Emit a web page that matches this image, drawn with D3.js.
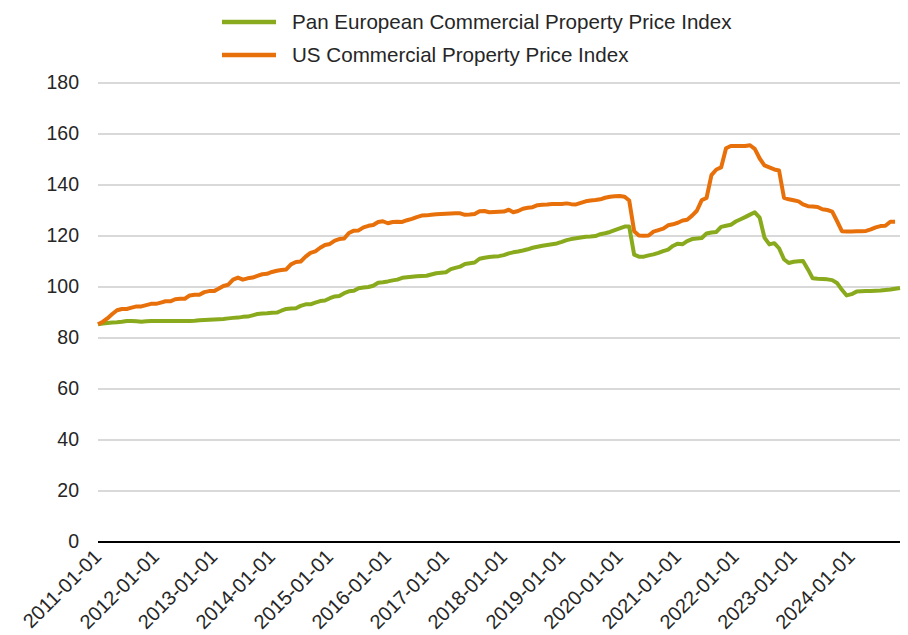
<!DOCTYPE html>
<meta charset="utf-8">
<style>
  body { margin: 0; background: #fff; }
  .chart text { font-family: "Liberation Sans", Arial, sans-serif; fill: #262626; }
  .grid line { stroke: #d9d9d9; stroke-width: 2; shape-rendering: crispEdges; }
  .grid path, .axis path { display: none; }
  .axis text { font-size: 19.5px; }
  .xaxis text { font-size: 20px; }
  .legend text { font-size: 20.6px; }
</style>
<body>
<svg class="chart"></svg>
<script src="https://cdn.jsdelivr.net/npm/d3@7"></script>
<script>

// Series names
var seriesNames = ["Pan European Commercial Property Price Index",
                   "US Commercial Property Price Index"];
var seriesColors = ["#8aaa1e", "#e8700a"];

// First month of both series, one value per month
var startMonth = "2011-01-01";

// Pan European index, 2011-01 .. 2024-11
var panEuropean = [
  85, 85.3, 85.5, 85.7, 85.8, 86, 86.3, 86.3, 86.2, 86, 86.2, 86.3,
  86.3, 86.3, 86.3, 86.3, 86.3, 86.3, 86.3, 86.3, 86.4, 86.6, 86.7, 86.8,
  86.9, 87, 87.1, 87.3, 87.5, 87.6, 87.9, 88, 88.5, 89, 89.2, 89.3,
  89.5, 89.6, 90.3, 91, 91.2, 91.3, 92.2, 92.8, 92.8, 93.5, 94.1, 94.3,
  95.2, 95.9, 96.1, 97.2, 97.9, 98.1, 99.1, 99.4, 99.6, 100.1, 101.3, 101.5,
  101.8, 102.2, 102.5, 103.2, 103.4, 103.6, 103.8, 103.9, 104, 104.5, 105, 105.2,
  105.4, 106.6, 107.1, 107.6, 108.6, 108.9, 109.2, 110.7, 111.1, 111.4, 111.6, 111.7,
  112.1, 112.8, 113.2, 113.5, 113.9, 114.4, 115, 115.4, 115.8, 116.1, 116.4, 116.7,
  117.3, 118, 118.4, 118.7, 119, 119.3, 119.4, 119.6, 120.3, 120.7, 121.2, 121.9,
  122.6, 123.3, 123.3, 112.3, 111.5, 111.5, 112, 112.4, 113, 113.7, 114.3, 115.7,
  116.6, 116.4, 117.6, 118.4, 118.6, 118.8, 120.6, 121, 121.2, 123.2, 123.6, 124,
  125.3, 126.2, 127, 128, 128.9, 126.8, 119, 116.3, 116.8, 114.8, 110.5, 109,
  109.5, 109.7, 109.8, 106.5, 103, 102.8, 102.7, 102.6, 102.3, 101.2, 98.5, 96.3,
  96.8, 97.8, 97.9, 98, 98, 98.1, 98.2, 98.4, 98.6, 98.9, 99.2
];

// US index, 2011-01 .. 2024-10
var usIndex = [
  85, 86, 87.3, 89, 90.5, 91, 91, 91.5, 92, 92, 92.5, 93,
  93, 93.5, 94, 94, 94.8, 95, 95, 96.3, 96.6, 96.6, 97.6, 98,
  98, 99, 100, 100.5, 102.5, 103.3, 102.5, 103, 103.3, 104, 104.6, 104.8,
  105.5, 106, 106.3, 106.5, 108.5, 109.4, 109.6, 111.5, 113, 113.6, 115, 116.1,
  116.5, 117.8, 118.4, 118.6, 120.8, 121.7, 121.8, 123, 123.6, 123.9, 125.1, 125.4,
  124.6, 125.1, 125.2, 125.1, 125.8, 126.3, 127, 127.6, 127.7, 127.9, 128.1, 128.2,
  128.3, 128.4, 128.5, 128.5, 127.9, 128, 128.2, 129.3, 129.4, 128.9, 129, 129.1,
  129.2, 129.9, 128.9, 129.4, 130.3, 130.7, 130.9, 131.7, 131.9, 132, 132.2, 132.2,
  132.2, 132.4, 132.1, 132, 132.6, 133.2, 133.5, 133.7, 134, 134.6, 135, 135.2,
  135.3, 135, 133.5, 121.5, 119.8, 119.7, 119.8, 121.3, 121.9, 122.5, 123.8, 124.2,
  124.8, 125.7, 126, 127.6, 129.5, 133.7, 134.5, 143.5, 145.7, 146.5, 154, 154.9,
  154.9, 154.9, 154.9, 155.2, 153.8, 150, 147.3, 146.5, 145.7, 145.3, 134.6, 134,
  133.6, 133.2, 132, 131.3, 131.2, 131, 130.1, 129.8, 129.2, 125.5, 121.5, 121.4,
  121.4, 121.5, 121.5, 121.6, 122.2, 123, 123.5, 123.6, 125.2, 125.2
];

var xTickLabels = ["2011-01-01", "2012-01-01", "2013-01-01", "2014-01-01", "2015-01-01",
                   "2016-01-01", "2017-01-01", "2018-01-01", "2019-01-01", "2020-01-01",
                   "2021-01-01", "2022-01-01", "2023-01-01", "2024-01-01"];
var yTicks = [0, 20, 40, 60, 80, 100, 120, 140, 160, 180];

var W = 908, H = 635;
var plot = { left: 98, right: 900, top: 82, bottom: 541 };

var parse = d3.timeParse("%Y-%m-%d");
var start = parse(startMonth);
var monthOf = function(i) { return d3.timeMonth.offset(start, i); };

var svg = d3.select(".chart").attr("width", W).attr("height", H);

var x = d3.scaleTime()
    .domain([start, monthOf(panEuropean.length - 1)])
    .range([plot.left, plot.right]);

var y = d3.scaleLinear()
    .domain([0, 180])
    .range([plot.bottom, plot.top]);

// gridlines (the zero line is black)
svg.append("g")
    .attr("class", "grid")
    .attr("transform", "translate(" + plot.left + ",0)")
    .call(d3.axisLeft(y).tickValues(yTicks).tickSize(-(plot.right - plot.left)).tickFormat(""))
    .selectAll(".tick line")
    .filter(function(d) { return d === 0; })
    .style("stroke", "#000")
    .style("stroke-width", 2);

// y labels
svg.append("g")
    .attr("class", "axis")
    .attr("transform", "translate(" + plot.left + ",0)")
    .call(d3.axisLeft(y).tickValues(yTicks).tickSize(0).tickPadding(19));

// x labels, rotated
svg.append("g")
    .attr("class", "axis xaxis")
    .attr("transform", "translate(0," + plot.bottom + ")")
    .call(d3.axisBottom(x).tickValues(xTickLabels.map(parse)).tickSize(0)
          .tickFormat(d3.timeFormat("%Y-%m-%d")))
    .selectAll("text")
    .attr("x", 0).attr("y", 0).attr("dy", 0)
    .style("text-anchor", "end")
    .attr("transform", "translate(4,17) rotate(-45)");

var line = d3.line()
    .x(function(d, i) { return x(monthOf(i)); })
    .y(function(d) { return y(d); });

[panEuropean, usIndex].forEach(function(s, k) {
  svg.append("path")
      .datum(s)
      .attr("d", line)
      .attr("fill", "none")
      .attr("stroke", seriesColors[k])
      .attr("stroke-width", 4)
      .attr("stroke-linejoin", "round");
});

// legend
var legend = svg.append("g").attr("class", "legend");
seriesNames.forEach(function(name, k) {
  var ly = 22 + k * 33;
  legend.append("line")
      .attr("x1", 222).attr("x2", 276)
      .attr("y1", ly).attr("y2", ly)
      .attr("stroke", seriesColors[k])
      .attr("stroke-width", 4.5);
  legend.append("text")
      .attr("x", 292).attr("y", ly)
      .attr("dy", "0.35em")
      .text(name);
});

</script>
</body>
